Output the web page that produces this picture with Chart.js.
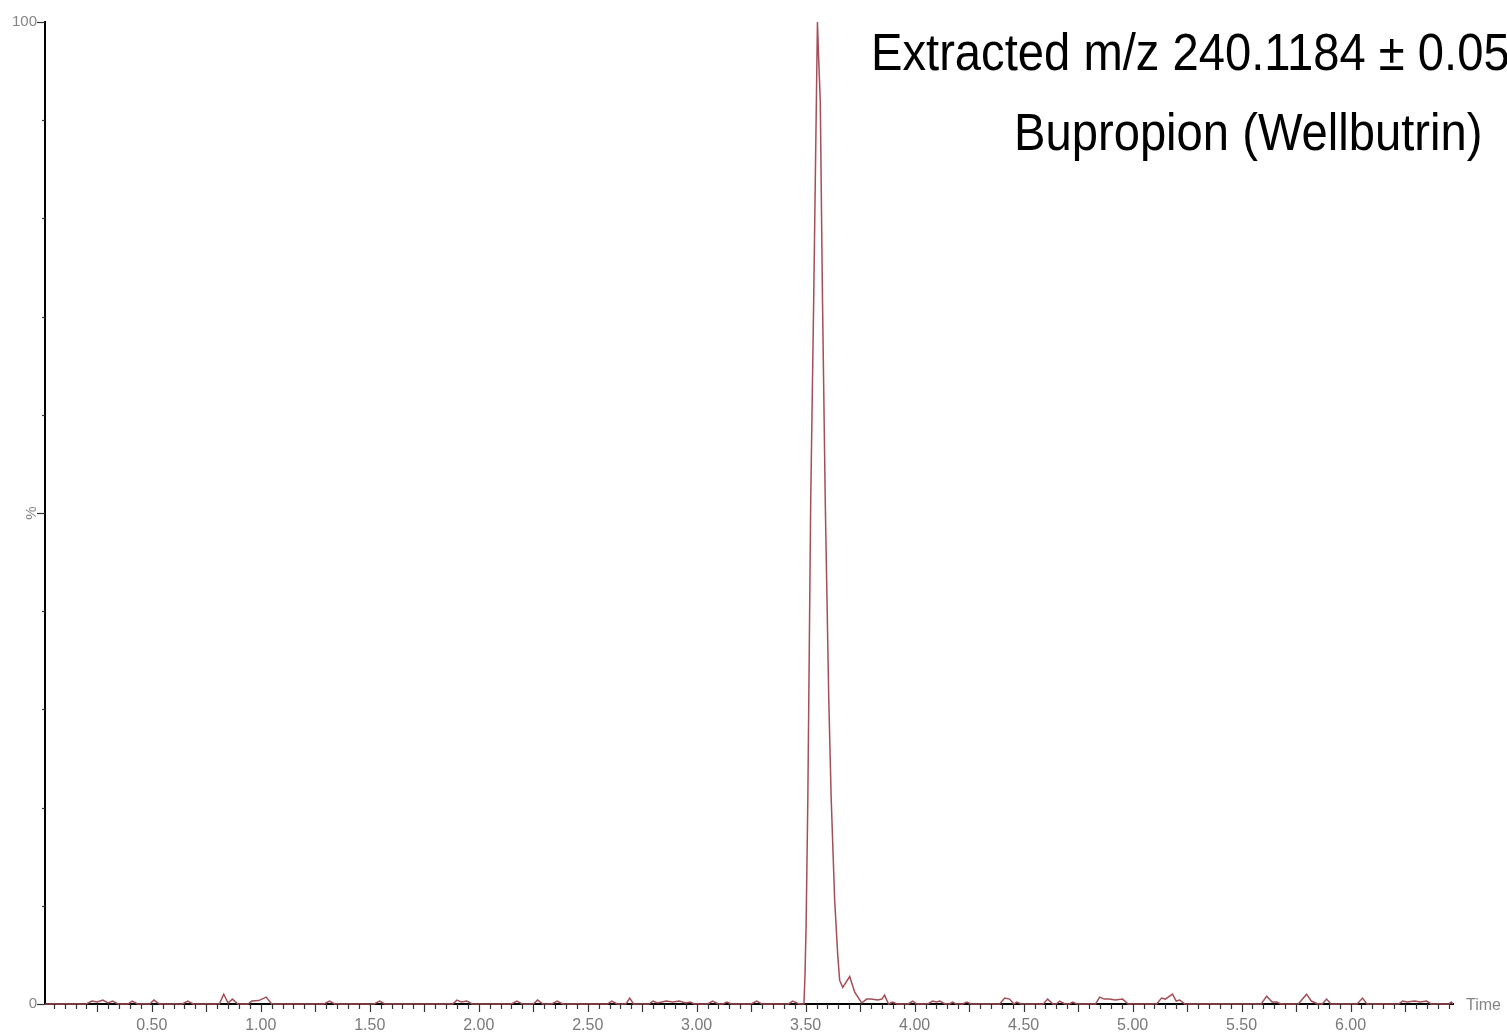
<!DOCTYPE html>
<html>
<head>
<meta charset="utf-8">
<script src="https://cdn.jsdelivr.net/npm/chart.js@4.4.1/dist/chart.umd.min.js"></script>
<style>
  html, body { margin: 0; padding: 0; background: #fff; }
  #wrap { width: 1507px; height: 1034px; }
</style>
</head>
<body>
<div id="wrap"><canvas id="chromChart"></canvas></div>
<script>
// retention time (min) and relative intensity (%)
const retentionTime = [
  0.01, 0.20, 0.225, 0.25, 0.275, 0.30, 0.32, 0.345, 0.39, 0.41, 0.435, 0.49, 0.51, 0.535,
  0.64, 0.665, 0.69, 0.81, 0.83, 0.85, 0.87, 0.895, 0.94, 0.96, 0.99, 1.025, 1.05,
  1.29, 1.315, 1.34, 1.52, 1.545, 1.57, 1.88, 1.90, 1.92, 1.945, 1.97,
  2.15, 2.175, 2.20, 2.25, 2.27, 2.295, 2.335, 2.36, 2.385, 2.59, 2.61, 2.635,
  2.675, 2.693, 2.71, 2.78, 2.80, 2.82, 2.86, 2.89, 2.92, 2.95, 2.97, 2.99,
  3.05, 3.073, 3.10, 3.12, 3.138, 3.16, 3.25, 3.275, 3.30, 3.42, 3.44, 3.47,
  3.492, 3.497, 3.502, 3.510, 3.523, 3.537, 3.554, 3.560, 3.567, 3.577, 3.590, 3.606,
  3.617, 3.633, 3.647, 3.656, 3.670, 3.702, 3.725, 3.757,
  3.78, 3.80, 3.83, 3.85, 3.862, 3.88, 3.899, 3.92, 3.97, 3.991, 4.01,
  4.06, 4.083, 4.10, 4.115, 4.14, 4.16, 4.174, 4.19, 4.22, 4.239, 4.26,
  4.39, 4.413, 4.436, 4.455, 4.468, 4.49, 4.59, 4.61, 4.635, 4.65, 4.665, 4.69,
  4.71, 4.725, 4.745, 4.83, 4.849, 4.87, 4.894, 4.92, 4.954, 4.98,
  5.11, 5.133, 5.15, 5.183, 5.20, 5.216, 5.24, 5.59, 5.615, 5.64, 5.661, 5.68,
  5.76, 5.798, 5.82, 5.85, 5.87, 5.89, 5.91, 6.03, 6.055, 6.075,
  6.22, 6.239, 6.26, 6.294, 6.32, 6.349, 6.37, 6.45, 6.462, 6.47
];
const relIntensity = [
  0, 0, 0.3, 0.2, 0.4, 0.1, 0.3, 0, 0, 0.3, 0, 0, 0.4, 0,
  0, 0.3, 0, 0, 1.0, 0.1, 0.5, 0, 0, 0.3, 0.35, 0.7, 0,
  0, 0.3, 0, 0, 0.3, 0, 0, 0.4, 0.2, 0.3, 0,
  0, 0.3, 0, 0, 0.4, 0, 0, 0.3, 0, 0, 0.3, 0,
  0, 0.6, 0, 0, 0.3, 0.1, 0.3, 0.2, 0.3, 0.1, 0.2, 0,
  0, 0.3, 0, 0, 0.2, 0, 0, 0.3, 0, 0, 0.3, 0,
  0, 3, 8, 21, 51, 72, 100, 96, 92, 72, 51, 31,
  21, 10.6, 5, 2.4, 1.7, 2.8, 1.2, 0.1,
  0.5, 0.5, 0.4, 0.5, 0.9, 0, 0.2, 0, 0, 0.3, 0,
  0, 0.3, 0.2, 0.3, 0, 0, 0.2, 0, 0, 0.2, 0,
  0, 0.6, 0.5, 0, 0.2, 0, 0, 0.5, 0, 0, 0.3, 0,
  0, 0.2, 0, 0, 0.7, 0.5, 0.5, 0.4, 0.5, 0,
  0, 0.6, 0.5, 1.0, 0.3, 0.4, 0, 0, 0.8, 0.2, 0.2, 0,
  0, 1.0, 0.3, 0, 0, 0.5, 0, 0, 0.6, 0,
  0, 0.3, 0.2, 0.3, 0.2, 0.3, 0, 0, 0.2, 0
];

const xTickValues = [0.5, 1.0, 1.5, 2.0, 2.5, 3.0, 3.5, 4.0, 4.5, 5.0, 5.5, 6.0];
const xTickLabels = ['0.50', '1.00', '1.50', '2.00', '2.50', '3.00', '3.50', '4.00', '4.50', '5.00', '5.50', '6.00'];
const yTickValues = [0, 50, 100];
const yTickLabels = ['0', '%', '100'];
const xAxisName = 'Time';
const titleLines = ['Extracted m/z 240.1184 \u00b1 0.05', 'Bupropion (Wellbutrin)'];

const FONT = "'Liberation Sans', Arial, sans-serif";

// small tick marks, y labels, axis name and the annotation text
const decorations = {
  id: 'decorations',
  afterDraw(chart) {
    const {ctx, chartArea, scales: {x, y}} = chart;
    ctx.save();
    ctx.strokeStyle = '#333';
    ctx.lineWidth = 1.2;

    // x ticks: every 0.05, longer every 0.25
    for (let k = 1; k <= 129; k++) {
      const px = Math.round(x.getPixelForValue(k * 0.05)) + 0.5;
      const len = (k % 5 === 0) ? 8 : 5;
      ctx.beginPath();
      ctx.moveTo(px, chartArea.bottom);
      ctx.lineTo(px, chartArea.bottom + len);
      ctx.stroke();
    }
    // y ticks: every 10
    for (let k = 0; k <= 10; k++) {
      const v = k * 10;
      const py = Math.round(y.getPixelForValue(v)) + 0.5;
      const len = yTickValues.includes(v) ? 8 : 3;
      ctx.beginPath();
      ctx.moveTo(chartArea.left, py);
      ctx.lineTo(chartArea.left - len, py);
      ctx.stroke();
    }

    ctx.fillStyle = '#858585';
    ctx.font = '15px ' + FONT;
    ctx.textBaseline = 'middle';
    yTickValues.forEach((v, i) => {
      const py = y.getPixelForValue(v);
      if (yTickLabels[i] === '%') {
        ctx.save();
        ctx.translate(chartArea.left - 13, py);
        ctx.rotate(-Math.PI / 2);
        ctx.textAlign = 'center';
        ctx.fillText(yTickLabels[i], 0, 0);
        ctx.restore();
      } else {
        ctx.textAlign = 'right';
        ctx.fillText(yTickLabels[i], chartArea.left - 8, py);
      }
    });

    ctx.textAlign = 'left';
    ctx.font = '16px ' + FONT;
    ctx.fillText(xAxisName, chartArea.right + 13, chartArea.bottom + 2);

    // annotation
    ctx.fillStyle = '#000';
    ctx.font = '51px ' + FONT;
    ctx.textBaseline = 'alphabetic';
    const sx = 0.925;
    ctx.save();
    ctx.scale(sx, 1);
    ctx.fillText(titleLines[0], 871 / sx, 70);
    ctx.fillText(titleLines[1], 1014 / sx, 150);
    ctx.restore();

    ctx.restore();
  }
};

const ctx = document.getElementById('chromChart').getContext('2d');
new Chart(ctx, {
  type: 'line',
  data: {
    datasets: [{
      label: 'm/z 240.1184',
      data: retentionTime.map((t, i) => ({x: t, y: relIntensity[i]})),
      borderColor: '#a44e57',
      borderWidth: 1.5,
      pointRadius: 0,
      tension: 0,
      fill: false,
      clip: false
    }]
  },
  options: {
    responsive: true,
    maintainAspectRatio: false,
    animation: false,
    layout: { padding: { top: 22, right: 54, bottom: 0, left: 0 } },
    plugins: {
      legend: { display: false },
      title: { display: false },
      tooltip: { enabled: false }
    },
    scales: {
      x: {
        type: 'linear',
        min: 0.01,
        max: 6.47,
        afterBuildTicks: s => { s.ticks = xTickValues.map(v => ({value: v})); },
        afterFit: s => { s.height = 30; },
        ticks: {
          autoSkip: false,
          maxRotation: 0,
          padding: 12,
          color: '#7a7a7a',
          font: { family: FONT, size: 16 },
          callback: (v, i) => xTickLabels[i]
        },
        grid: { display: false, drawTicks: false },
        border: { display: true, color: '#000', width: 2 }
      },
      y: {
        min: 0,
        max: 100,
        afterFit: s => { s.width = 45; },
        ticks: { display: false },
        grid: { display: false, drawTicks: false },
        border: { display: true, color: '#000', width: 2 }
      }
    }
  },
  plugins: [decorations]
});
</script>
</body>
</html>
